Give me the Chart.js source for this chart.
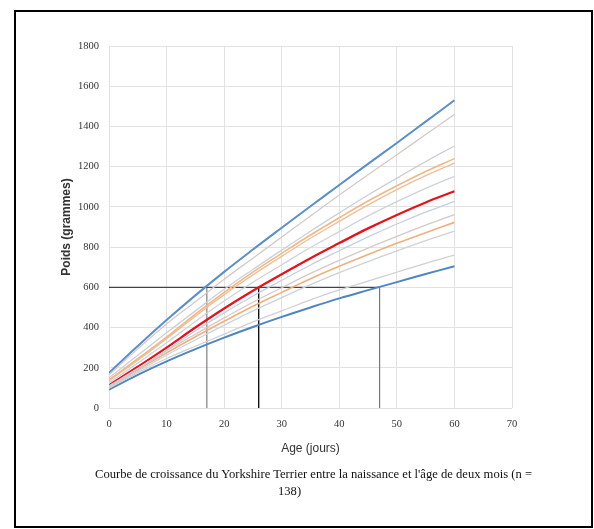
<!DOCTYPE html>
<html lang="fr">
<head>
  <meta charset="UTF-8">
  <title>Courbe de croissance du Yorkshire Terrier</title>
  <style>
    body {
      margin: 0;
      padding: 0;
      background: #fff;
      width: 594px;
      height: 529px;
      position: relative;
      overflow: hidden;
    }
    #frame {
      position: absolute;
      left: 14px;
      top: 10px;
      width: 575px;
      height: 514px;
      border: 2px solid #000;
    }
    #growthChart {
      position: absolute;
      left: 0;
      top: 0;
    }
    .caption {
      position: absolute;
      font-family: "Liberation Serif", "Times New Roman", serif;
      font-size: 12.6px;
      color: #111;
      white-space: nowrap;
    }
  </style>
  <script src="https://cdn.jsdelivr.net/npm/chart.js"></script>
</head>
<body>
  <div id="frame"></div>
  <canvas id="growthChart" width="594" height="529"></canvas>
  <div class="caption" id="cap1" style="left:95px; top:467px;">Courbe de croissance du Yorkshire Terrier entre la naissance et l'âge de deux mois (n =</div>
  <div class="caption" id="cap2" style="left:278px; top:484px;">138)</div>

  <script>
    // age in days, weight in grams
    const ages = [0, 5, 10, 15, 20, 25, 30, 35, 40, 45, 50, 55, 60];

    const blueHigh = [175, 308, 437, 560, 677, 788, 896, 1003, 1109, 1214, 1318, 1424, 1530];
    const grayA    = [165, 294, 418, 528, 640, 745, 850, 955, 1059, 1160, 1259, 1360, 1460];
    const grayB    = [150, 262, 374, 483, 590, 689, 785, 879, 970, 1059, 1143, 1225, 1303];
    const orangeA  = [140, 245, 353, 467, 575, 676, 769, 860, 946, 1029, 1105, 1176, 1240];
    const orangeB  = [135, 238, 345, 457, 564, 662, 754, 844, 928, 1010, 1086, 1155, 1218];
    const grayC    = [125, 223, 324, 430, 532, 625, 712, 798, 877, 955, 1026, 1092, 1152];
    const median   = [113, 205, 300, 400, 495, 583, 665, 745, 820, 893, 960, 1022, 1078];
    const grayD    = [110, 197, 288, 383, 473, 557, 635, 711, 782, 851, 915, 974, 1027];
    const grayE    = [105, 195, 284, 367, 448, 526, 598, 669, 734, 795, 853, 909, 962];
    const orangeC  = [103, 190, 274, 354, 431, 506, 575, 643, 705, 763, 819, 872, 923];
    const grayF    = [100, 182, 263, 338, 412, 483, 549, 613, 673, 728, 781, 832, 880];
    const grayG    = [98, 175, 246, 307, 367, 428, 483, 538, 587, 631, 675, 719, 760];
    const blueLow  = [92, 165, 232, 293, 350, 403, 453, 500, 545, 586, 626, 666, 705];

    // reading lines at 600 g
    const guideWeight = 600;
    const guideAges = [17, 26, 47];

    const toPoints = values => values.map((v, i) => ({ x: ages[i], y: v }));

    const curve = (values, color, width) => ({
      data: toPoints(values),
      borderColor: color,
      borderWidth: width,
      pointRadius: 0,
      tension: 0.4,
      fill: false
    });

    const guide = (points, color, width) => ({
      data: points,
      borderColor: color,
      borderWidth: width,
      pointRadius: 0,
      tension: 0,
      fill: false
    });

    const datasets = [
      curve(grayA, '#d6c9c8', 1.3),
      curve(grayB, '#cdd0d8', 1.3),
      curve(grayC, '#cfd2da', 1.3),
      curve(grayD, '#c3d0e0', 1.3),
      curve(grayE, '#d5c9c6', 1.3),
      curve(grayF, '#cdd2da', 1.3),
      curve(grayG, '#d0d0d4', 1.3),
      curve(orangeA, '#f0b888', 1.6),
      curve(orangeB, '#eebf98', 1.4),
      curve(orangeC, '#eeb080', 1.6),
      curve(blueHigh, '#5b8fc5', 2),
      curve(blueLow, '#4f86c0', 2),
      curve(median, '#e0161c', 2.3),
      guide([{ x: 0, y: guideWeight }, { x: guideAges[2], y: guideWeight }], '#444', 1.4),
      guide([{ x: guideAges[0], y: 0 }, { x: guideAges[0], y: guideWeight }], '#666', 1),
      guide([{ x: guideAges[1], y: 0 }, { x: guideAges[1], y: guideWeight }], '#111', 1.4),
      guide([{ x: guideAges[2], y: 0 }, { x: guideAges[2], y: guideWeight }], '#777', 1.2)
    ];

    const tickFont = { family: 'Liberation Serif', size: 10.5 };

    new Chart(document.getElementById('growthChart'), {
      type: 'line',
      data: { datasets },
      options: {
        responsive: false,
        animation: false,
        layout: { padding: { left: 55, top: 46, right: 82, bottom: 69 } },
        plugins: {
          legend: { display: false },
          tooltip: { enabled: false }
        },
        scales: {
          x: {
            type: 'linear',
            min: 0,
            max: 70,
            ticks: { stepSize: 10, font: tickFont, color: '#333', padding: 10, callback: v => String(v) },
            grid: { color: '#e2e2e2', drawTicks: false },
            border: { display: false },
            title: {
              display: true,
              text: 'Age (jours)',
              font: { family: 'Liberation Sans', size: 12 },
              color: '#333',
              padding: { top: 0, bottom: 4 }
            },
            afterFit: s => { s.height = 52; }
          },
          y: {
            type: 'linear',
            min: 0,
            max: 1800,
            ticks: { stepSize: 200, font: tickFont, color: '#333', padding: 10, callback: v => String(v) },
            grid: { color: '#e2e2e2', drawTicks: false },
            border: { display: false },
            title: {
              display: true,
              text: 'Poids (grammes)',
              font: { family: 'Liberation Sans', size: 12, weight: 'bold' },
              color: '#333',
              padding: { top: 4, bottom: 0 }
            },
            afterFit: s => { s.width = 54; }
          }
        }
      }
    });
  </script>
</body>
</html>
